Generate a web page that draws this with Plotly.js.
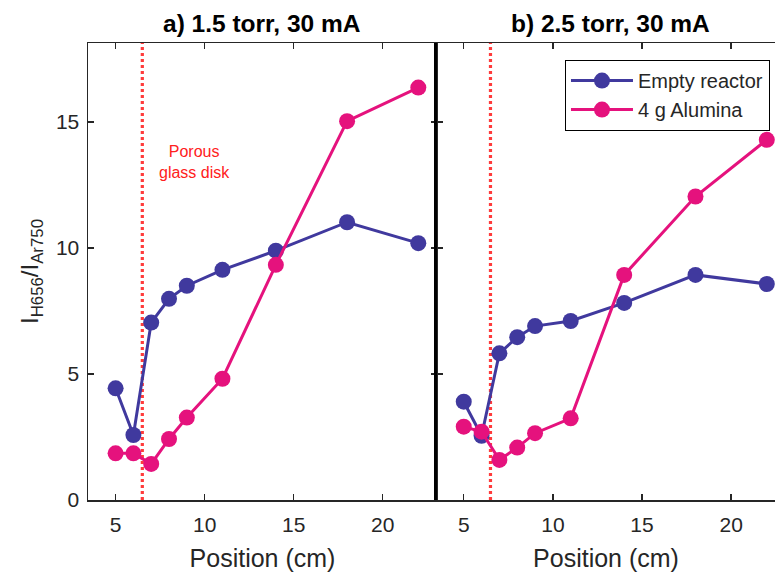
<!DOCTYPE html>
<html><head><meta charset="utf-8">
<script src="https://cdn.plot.ly/plotly-3.0.1.min.js"></script>
<style>html,body{margin:0;padding:0;background:#fff}#chart{width:775px;height:572px}</style>
</head><body><div id="chart"></div>
<script>
const positions = [5, 6, 7, 8, 9, 11, 14, 18, 22];
const emptyA = [4.43, 2.58, 7.04, 7.98, 8.5, 9.13, 9.89, 11.02, 10.19];
const aluminaA = [1.85, 1.85, 1.43, 2.42, 3.27, 4.81, 9.33, 15.03, 16.36];
const emptyB = [3.9, 2.55, 5.82, 6.46, 6.9, 7.1, 7.82, 8.93, 8.57];
const aluminaB = [2.91, 2.71, 1.59, 2.08, 2.65, 3.24, 8.93, 12.04, 14.29];
const diskPosition = [6.5, 6.5];
const diskSpan = [0, 18.2];
const seriesNames = ["Empty reactor", "4 g Alumina"];
const panelTitles = ["a) 1.5 torr, 30 mA", "b) 2.5 torr, 30 mA"];
const tickValsX = [5, 10, 15, 20];
const tickValsY = [0, 5, 10, 15];

const blue = "#40399E", magenta = "#E5127D", red = "#FF3B3B";
const font = "Liberation Sans, Arial, sans-serif";
const txt = "#262626";

function series(x, y, name, color, xa, ya, show) {
  return {x: x, y: y, name: name, type: "scatter", mode: "lines+markers",
    xaxis: xa, yaxis: ya, showlegend: show,
    line: {color: color, width: 3}, marker: {color: color, size: 16}};
}
function disk(xa, ya) {
  return {x: diskPosition, y: diskSpan, type: "scatter", mode: "lines", xaxis: xa, yaxis: ya,
    showlegend: false, hoverinfo: "skip", line: {color: red, width: 3.2, dash: "3px,3px"}};
}
const traces = [
  disk("x", "y"), disk("x2", "y2"),
  series(positions, emptyA, seriesNames[0], blue, "x", "y", true),
  series(positions, aluminaA, seriesNames[1], magenta, "x", "y", true),
  series(positions, emptyB, seriesNames[0], blue, "x2", "y2", false),
  series(positions, aluminaB, seriesNames[1], magenta, "x2", "y2", false)
];

const baseX = {ticks: "inside", ticklen: 6, tickwidth: 1.3, tickvals: tickValsX, showgrid: false, zeroline: false,
  showline: true, mirror: "ticks", linecolor: txt, linewidth: 1.5, tickcolor: txt,
  tickfont: {size: 21, color: txt, family: font}, ticklabelstandoff: 5,
  title: {text: "Position (cm)", font: {size: 25, color: txt, family: font}, standoff: 15}};
const baseY = {ticks: "inside", ticklen: 6, tickwidth: 1.3, tickvals: tickValsY, showgrid: false, zeroline: false,
  showline: true, mirror: "ticks", linecolor: txt, linewidth: 1.5, tickcolor: txt,
  tickfont: {size: 21, color: txt, family: font}, range: [0, 18.13]};

const layout = {
  width: 775, height: 572, paper_bgcolor: "#fff", plot_bgcolor: "#fff",
  margin: {l: 88, r: 0, t: 43, b: 72},
  font: {family: font, color: txt},
  xaxis: Object.assign({}, baseX, {domain: [0, 0.508], range: [3.45, 23.05], anchor: "y"}),
  yaxis: Object.assign({}, baseY, {domain: [0, 1], anchor: "x", ticklabelstandoff: 3,
    title: {text: "I<sub>H656</sub>/I<sub>Ar750</sub>", font: {size: 24, color: txt, family: font}, standoff: 10}}),
  xaxis2: Object.assign({}, baseX, {domain: [0.508, 1], range: [3.5, 22.46], anchor: "y2"}),
  yaxis2: Object.assign({}, baseY, {domain: [0, 1], anchor: "x2", showticklabels: false,
    linecolor: "#000", linewidth: 2.5, mirror: false}),
  legend: {x: 0.694, y: 0.963, xanchor: "left", yanchor: "top", bgcolor: "#fff",
    bordercolor: "#000", borderwidth: 1.2, font: {size: 20, color: txt, family: font},
    itemwidth: 62, tracegroupgap: 0},
  annotations: [
    {text: "<b>" + panelTitles[0] + "</b>", xref: "x domain", yref: "paper", x: 0.5, y: 1, yshift: 4,
      xanchor: "center", yanchor: "bottom", showarrow: false, font: {size: 24.5, color: "#000", family: font}},
    {text: "<b>" + panelTitles[1] + "</b>", xref: "paper", yref: "paper", x: (610 - 88) / 687, y: 1, yshift: 4,
      xanchor: "center", yanchor: "bottom", showarrow: false, font: {size: 24.5, color: "#000", family: font}},
    {text: "Porous<br>glass disk", xref: "x", yref: "y", x: 9.45, y: 13.4, showarrow: false,
      font: {size: 16, color: "#FF2020", family: font}}
  ]
};
Plotly.newPlot("chart", traces, layout, {displayModeBar: false, staticPlot: true});
</script></body></html>
